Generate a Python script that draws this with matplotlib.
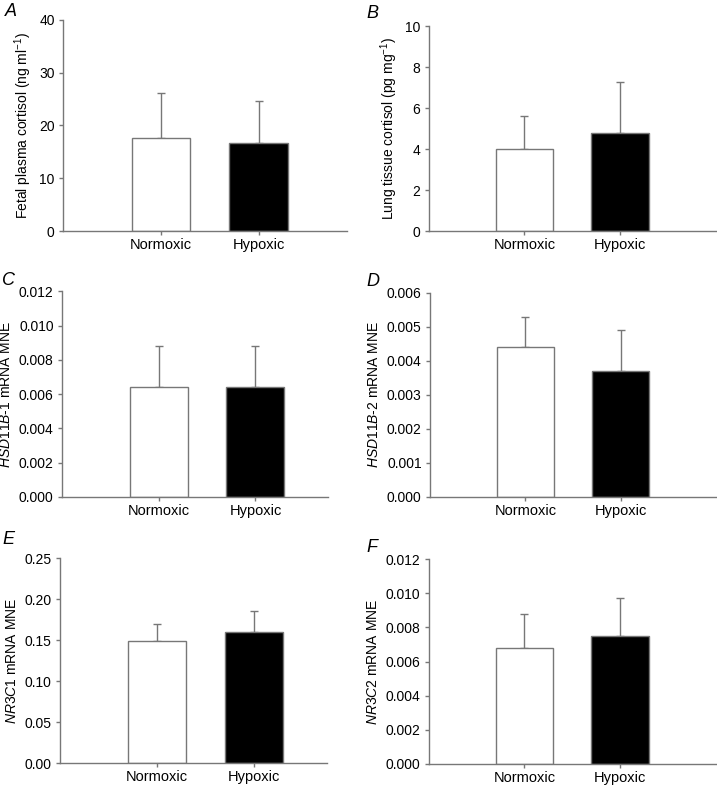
import numpy as np
import matplotlib.pyplot as plt

plt.rcParams['font.family'] = ['Liberation Sans', 'DejaVu Sans']
plt.rcParams['mathtext.fontset'] = 'custom'
plt.rcParams['mathtext.rm'] = 'Liberation Sans'
plt.rcParams['mathtext.it'] = 'Liberation Sans:italic'

groups = ["Normoxic", "Hypoxic"]

plasma_cortisol = [17.6, 16.6]
plasma_cortisol_err = [8.5, 8.1]
lung_cortisol = [4.0, 4.8]
lung_cortisol_err = [1.6, 2.45]
hsd11b1 = [0.0064, 0.0064]
hsd11b1_err = [0.0024, 0.0024]
hsd11b2 = [0.0044, 0.0037]
hsd11b2_err = [0.0009, 0.0012]
nr3c1 = [0.149, 0.160]
nr3c1_err = [0.021, 0.025]
nr3c2 = [0.0068, 0.0075]
nr3c2_err = [0.0020, 0.0022]

W, H = 717, 785

# letter, values, errors, y label, y ticks, tick format, axes rect, x max, letter position (px)
panels = [
    ("A", plasma_cortisol, plasma_cortisol_err, "Fetal plasma cortisol (ng ml$^{-1}$)",
     np.arange(0, 41, 10), "%d", [0.0879, 0.7057, 0.396, 0.269], 2.9, (5, 12)),
    ("B", lung_cortisol, lung_cortisol_err, "Lung tissue cortisol (pg mg$^{-1}$)",
     np.arange(0, 11, 2), "%d", [0.598, 0.7057, 0.400, 0.261], 3.0, (366, 13)),
    ("C", hsd11b1, hsd11b1_err, "$\\mathit{HSD11B}$-$\\mathit{1}$ mRNA MNE",
     np.arange(0, 0.0121, 0.002), "%.3f", [0.0865, 0.3669, 0.371, 0.262], 2.75, (2, 281)),
    ("D", hsd11b2, hsd11b2_err, "$\\mathit{HSD11B}$-$\\mathit{2}$ mRNA MNE",
     np.arange(0, 0.00601, 0.001), "%.3f", [0.5997, 0.3669, 0.399, 0.260], 3.0, (366, 282)),
    ("E", nr3c1, nr3c1_err, "$\\mathit{NR3C1}$ mRNA MNE",
     np.arange(0, 0.251, 0.05), "%.2f", [0.0837, 0.028, 0.372, 0.261], 2.75, (2, 540)),
    ("F", nr3c2, nr3c2_err, "$\\mathit{NR3C2}$ mRNA MNE",
     np.arange(0, 0.0121, 0.002), "%.3f", [0.598, 0.0268, 0.400, 0.261], 3.0, (366, 548)),
]

edge = "#777777"
fig = plt.figure(figsize=(W / 100, H / 100), dpi=100)

for letter, vals, errs, ylab, yticks, fmt, rect, xmax, lpos in panels:
    ax = fig.add_axes(rect)
    x = np.arange(1, len(groups) + 1)
    ax.bar(x, vals, width=0.6, color=["white", "black"], edgecolor=edge, linewidth=1, zorder=2)
    ax.errorbar(x, vals, yerr=[[0] * len(errs), errs], fmt="none", ecolor=edge,
                elinewidth=1, capsize=3, capthick=1, zorder=1)
    ax.set_xlim(0, xmax)
    ax.set_ylim(yticks[0], yticks[-1])
    ax.set_yticks(yticks)
    ax.set_yticklabels([fmt % t for t in yticks])
    ax.set_xticks(x)
    ax.set_xticklabels(groups)
    ax.spines[["top", "right"]].set_visible(False)
    for s in ["left", "bottom"]:
        ax.spines[s].set_color(edge)
        ax.spines[s].set_linewidth(1)
    ax.tick_params(colors=edge, labelcolor="black", labelsize=10, length=3, width=1, pad=3)
    ax.tick_params(axis="x", pad=2, labelsize=10.5)
    ax.set_ylabel(ylab, fontsize=10, labelpad=4)
    fig.text(lpos[0] / W, 1 - lpos[1] / H, letter, fontsize=13, style="italic",
             ha="left", va="center")

fig.savefig("out.png", dpi=100)
